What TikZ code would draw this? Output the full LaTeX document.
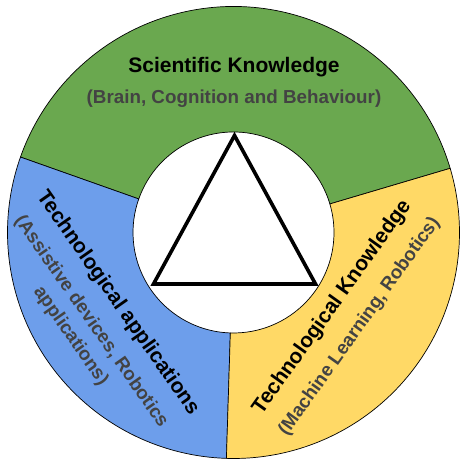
\documentclass[tikz,border=0pt]{standalone}
\usepackage{fontspec}
\setmainfont{Liberation Sans}
\usepackage{xcolor}
\usepackage{tikz}
\usetikzlibrary{calc}
\definecolor{scigreen}{HTML}{6AA84F}
\definecolor{techblue}{HTML}{6D9EEB}
\definecolor{techyellow}{HTML}{FFD966}
\definecolor{subgray}{HTML}{434343}

\tikzset{
  sector/.style={draw=black, line width=0.7pt},
  labelblock/.style={align=center, inner sep=0pt, font=\fontsize{21}{25}\selectfont\bfseries},
}

\begin{document}
\begin{tikzpicture}[x=1pt, y=1pt]
    \useasboundingbox (-233.5,-235.5) rectangle (235.5,232.5);
    % ring
    \filldraw[sector, fill=scigreen] (16.5:226) arc[start angle=16.5, end angle=160.5, radius=226pt]
      -- (160.5:100.5) arc[start angle=160.5, end angle=16.5, radius=100.5pt] -- cycle;
    \filldraw[sector, fill=techblue] (160.5:226) arc[start angle=160.5, end angle=268.2, radius=226pt]
      -- (268.2:100.5) arc[start angle=268.2, end angle=160.5, radius=100.5pt] -- cycle;
    \filldraw[sector, fill=techyellow] (268.2:226) arc[start angle=268.2, end angle=376.5, radius=226pt]
      -- (16.5:100.5) arc[start angle=376.5, end angle=268.2, radius=100.5pt] -- cycle;
    % triangle
    \coordinate (apex) at (1,97);
    \coordinate (lefttip) at (-80,-51.5);
    \coordinate (righttip) at (82,-51.5);
    \draw[line width=3.6pt] (apex) -- (lefttip) -- (righttip) -- cycle;
    % labels
    \node[labelblock] (science) at (0.5,150) {%
      Scientific Knowledge\\[6pt]
      \textcolor{subgray}{\fontsize{18.8}{22}\selectfont (Brain, Cognition and Behaviour)}};
    \node[labelblock, rotate=-55] (applications) at (-138.9,-86.8) {%
      Technological applications\\[7pt]
      \textcolor{subgray}{\fontsize{18.8}{22}\selectfont (Assistive devices, Robotics}\\
      \textcolor{subgray}{\fontsize{18.8}{22}\selectfont applications)}};
    \node[labelblock, rotate=54.5] (technology) at (112,-84.2) {%
      Technological Knowledge\\[8pt]
      \textcolor{subgray}{\fontsize{18.8}{22}\selectfont (Machine Learning, Robotics)}};
  \end{tikzpicture}
\end{document}
